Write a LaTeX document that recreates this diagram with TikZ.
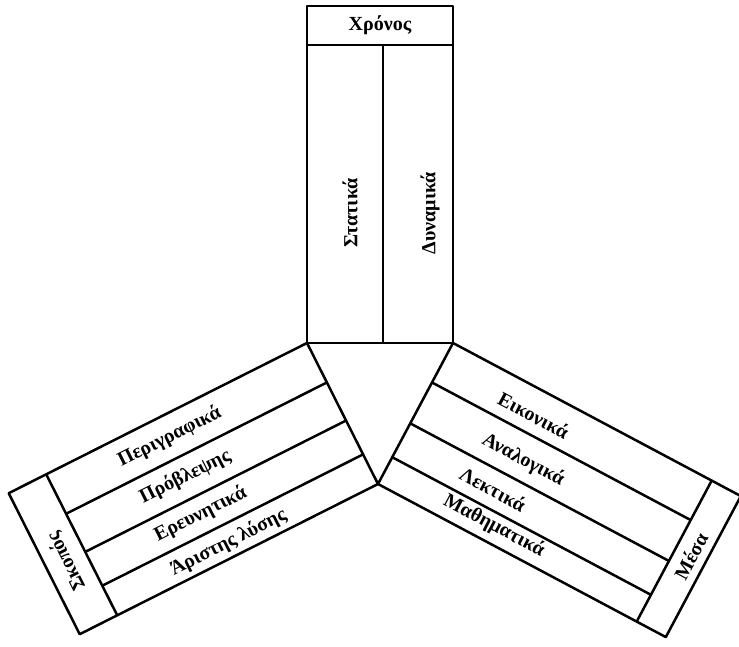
\documentclass[tikz,border=0pt]{standalone}
\usepackage{fontspec}
\setmainfont{Liberation Serif}
\usetikzlibrary{calc}
\begin{document}
\begin{tikzpicture}[x=1pt,y=1pt,line width=2.5pt,line join=round,every node/.style={font=\fontsize{20}{24}\selectfont\bfseries,inner sep=0pt}]
\useasboundingbox (0,0) rectangle (739,646);
\coordinate (TriLeft) at (307,303);
\coordinate (TriRight) at (453,303);
\coordinate (TriBottom) at (378,162);
\draw (TriLeft) rectangle ($(TriRight)+(0,337)$);
\draw ($(TriLeft)+(0,298)$) -- ($(TriRight)+(0,298)$);
\draw ($(TriLeft)+(76,0)$) -- ($(TriLeft)+(76,298)$);
\node (Time) at ($(TriLeft)!0.5!(TriRight)+(0,318)$) {Χρόνος};
\node [rotate=90] (TimeStatic) at (350,433) {Στατικά};
\node [rotate=90] (TimeDynamic) at (430,433) {Δυναμικά};
\draw (TriLeft) -- ($(TriLeft)!334pt!-90:(TriBottom)$) -- ($(TriBottom)!334pt!90:(TriLeft)$) -- (TriBottom) -- cycle;
\draw ($(TriLeft)!292pt!-90:(TriBottom)$) -- ($(TriBottom)!292pt!90:(TriLeft)$);
\foreach \f in {0.28,0.55,0.79}
  \draw ($(TriLeft)!\f!(TriBottom)$) -- ($(TriLeft)!\f!(TriBottom)!292pt!-90:(TriBottom)$);
\node [rotate=116.7] (Goal) at ($(TriLeft)!0.55!(TriBottom)!313pt!-90:(TriBottom)$) {Σκοπός};
\node [rotate=26.7] (GoalDescr) at ($(TriLeft)!0.14!(TriBottom)!165pt!-90:(TriBottom)$) {Περιγραφικά};
\node [rotate=26.7] (GoalPredict) at ($(TriLeft)!0.41!(TriBottom)!169pt!-90:(TriBottom)$) {Πρόβλεψης};
\node [rotate=26.7] (GoalExplore) at ($(TriLeft)!0.665!(TriBottom)!172pt!-90:(TriBottom)$) {Ερευνητικά};
\node [rotate=26.7] (GoalOptimal) at ($(TriLeft)!0.905!(TriBottom)!160pt!-90:(TriBottom)$) {Άριστης λύσης};
\draw (TriRight) -- ($(TriRight)!326pt!90:(TriBottom)$) -- ($(TriBottom)!326pt!-90:(TriRight)$) -- (TriBottom) -- cycle;
\draw ($(TriRight)!293pt!90:(TriBottom)$) -- ($(TriBottom)!293pt!-90:(TriRight)$);
\foreach \f in {0.28,0.57,0.81}
  \draw ($(TriRight)!\f!(TriBottom)$) -- ($(TriRight)!\f!(TriBottom)!293pt!90:(TriBottom)$);
\node [rotate=62] (Means) at ($(TriRight)!0.48!(TriBottom)!310pt!90:(TriBottom)$) {Μέσα};
\node [rotate=-28] (MeansIconic) at ($(TriRight)!0.16!(TriBottom)!105pt!90:(TriBottom)$) {Εικονικά};
\node [rotate=-28] (MeansAnalog) at ($(TriRight)!0.44!(TriBottom)!117pt!90:(TriBottom)$) {Αναλογικά};
\node [rotate=-28] (MeansVerbal) at ($(TriRight)!0.69!(TriBottom)!104pt!90:(TriBottom)$) {Λεκτικά};
\node [rotate=-28] (MeansMath) at ($(TriRight)!0.89!(TriBottom)!122pt!90:(TriBottom)$) {Μαθηματικά};
\end{tikzpicture}
\end{document}
